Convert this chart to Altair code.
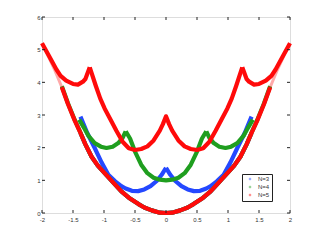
import altair as alt
import pandas as pd

# ---------------- data ----------------
series_names = ["N=3", "N=4", "N=5"]
series_colors = ["#2448ff", "#1f9e1f", "#ff0a0a"]

x_ticks = [-2, -1.5, -1, -0.5, 0, 0.5, 1, 1.5, 2]
y_ticks = [0, 1, 2, 3, 4, 5, 6]

# N=3 (blue)
n3_low_x = [-1.38, -1.3, -1.2, -1.1, -0.99, -0.85, -0.72, -0.6, -0.45, -0.35, -0.23, -0.1, 0,
            0.1, 0.23, 0.35, 0.45, 0.6, 0.72, 0.85, 0.99, 1.1, 1.2, 1.3, 1.38]
n3_low_y = [2.45, 2.1, 1.72, 1.45, 1.22, 0.93, 0.66, 0.47, 0.28, 0.17, 0.08, 0.01, 0,
            0.01, 0.08, 0.17, 0.28, 0.47, 0.66, 0.93, 1.22, 1.45, 1.72, 2.1, 2.45]
n3_upL_x = [-1.38, -1.27, -1.15, -1.04, -0.93, -0.82, -0.72, -0.65, -0.55, -0.45, -0.35, -0.25, -0.15, -0.07, 0]
n3_upL_y = [2.95, 2.45, 1.99, 1.55, 1.17, 0.97, 0.82, 0.75, 0.68, 0.67, 0.72, 0.82, 0.98, 1.17, 1.38]
n3_upR_x = [0, 0.07, 0.15, 0.25, 0.35, 0.45, 0.55, 0.65, 0.72, 0.82, 0.93, 1.04, 1.15, 1.27, 1.38]
n3_upR_y = [1.38, 1.17, 0.98, 0.82, 0.72, 0.67, 0.68, 0.75, 0.82, 0.97, 1.17, 1.55, 1.99, 2.45, 2.95]

# N=4 (green)
n4_low_x = [-1.68, -1.58, -1.47, -1.38, -1.3, -1.2, -1.1, -0.99, -0.85, -0.72, -0.6, -0.45, -0.35, -0.23, -0.1, 0,
            0.1, 0.23, 0.35, 0.45, 0.6, 0.72, 0.85, 0.99, 1.1, 1.2, 1.3, 1.38, 1.47, 1.58, 1.68]
n4_low_y = [3.88, 3.35, 2.84, 2.46, 2.1, 1.72, 1.45, 1.22, 0.93, 0.66, 0.47, 0.28, 0.17, 0.08, 0.01, 0,
            0.01, 0.08, 0.17, 0.28, 0.47, 0.66, 0.93, 1.22, 1.45, 1.72, 2.1, 2.46, 2.84, 3.35, 3.88]
n4_outL_x = [-1.4, -1.32, -1.25, -1.15, -1.05, -0.96, -0.86, -0.77, -0.7, -0.65]
n4_outL_y = [2.86, 2.6, 2.36, 2.14, 2.03, 1.99, 2.03, 2.14, 2.3, 2.5]
n4_in_x = [-0.65, -0.58, -0.5, -0.4, -0.3, -0.2, -0.1, 0, 0.1, 0.2, 0.3, 0.4, 0.5, 0.58, 0.65]
n4_in_y = [2.5, 2.28, 1.88, 1.48, 1.22, 1.08, 1.02, 1.0, 1.02, 1.08, 1.22, 1.48, 1.88, 2.28, 2.5]
n4_outR_x = [0.65, 0.7, 0.77, 0.86, 0.96, 1.05, 1.15, 1.25, 1.32, 1.4]
n4_outR_y = [2.5, 2.3, 2.14, 2.03, 1.99, 2.03, 2.14, 2.36, 2.6, 2.86]

# N=5 (red)
n5_low_x = n4_low_x
n5_low_y = [3.85, 3.33, 2.82, 2.45, 2.1, 1.72, 1.45, 1.22, 0.93, 0.66, 0.47, 0.28, 0.17, 0.08, 0.01, 0,
            0.01, 0.08, 0.17, 0.28, 0.47, 0.66, 0.93, 1.22, 1.45, 1.72, 2.1, 2.45, 2.82, 3.33, 3.85]
n5_faintL_x = [-2.0, -1.9, -1.8, -1.68]
n5_faintL_y = [5.2, 4.8, 4.4, 3.85]
n5_faintR_x = [1.68, 1.8, 1.9, 2.0]
n5_faintR_y = [3.85, 4.4, 4.8, 5.2]
n5_outL_x = [-2.0, -1.88, -1.77, -1.7, -1.61, -1.5, -1.42, -1.34, -1.3, -1.23]
n5_outL_y = [5.2, 4.78, 4.4, 4.2, 4.05, 3.95, 3.93, 4.02, 4.1, 4.46]
n5_in_x = [-1.23, -1.13, -1.06, -0.99, -0.9, -0.8, -0.7, -0.6, -0.5, -0.4, -0.3, -0.2, -0.1, -0.05, 0,
           0.05, 0.1, 0.2, 0.3, 0.4, 0.5, 0.6, 0.7, 0.8, 0.9, 0.99, 1.06, 1.13, 1.23]
n5_in_y = [4.46, 3.88, 3.5, 3.2, 2.88, 2.52, 2.18, 1.98, 1.93, 1.96, 2.04, 2.22, 2.52, 2.72, 2.96,
           2.72, 2.52, 2.22, 2.04, 1.96, 1.93, 1.98, 2.18, 2.52, 2.88, 3.2, 3.5, 3.88, 4.46]
n5_outR_x = [1.23, 1.3, 1.34, 1.42, 1.5, 1.61, 1.7, 1.77, 1.88, 2.0]
n5_outR_y = [4.46, 4.1, 4.02, 3.93, 3.95, 4.05, 4.2, 4.4, 4.78, 5.2]

# ---------------- build tables ----------------
rows = []
def add(series, branch, xs, ys, faint=False):
    for a, b in zip(xs, ys):
        rows.append({"series": series, "branch": branch, "x": a, "y": b, "faint": faint})

add("N=3", "low", n3_low_x, n3_low_y)
add("N=3", "upL", n3_upL_x, n3_upL_y)
add("N=3", "upR", n3_upR_x, n3_upR_y)
add("N=4", "low", n4_low_x, n4_low_y)
add("N=4", "outL", n4_outL_x, n4_outL_y)
add("N=4", "in", n4_in_x, n4_in_y)
add("N=4", "outR", n4_outR_x, n4_outR_y)
add("N=5", "low", n5_low_x, n5_low_y)
add("N=5", "outL", n5_outL_x, n5_outL_y)
add("N=5", "in", n5_in_x, n5_in_y)
add("N=5", "outR", n5_outR_x, n5_outR_y)
add("N=5", "faintL", n5_faintL_x, n5_faintL_y, True)
add("N=5", "faintR", n5_faintR_x, n5_faintR_y, True)
df = pd.DataFrame(rows)

xt_df = pd.DataFrame({"x": x_ticks})
yt_df = pd.DataFrame({"y": y_ticks})

W, H = 248, 196
FONT = "Liberation Sans"

x_enc = alt.X("x:Q", scale=alt.Scale(domain=[-2, 2], nice=False, zero=False),
              axis=alt.Axis(values=x_ticks, labelExpr="'' + datum.value", ticks=False, grid=False,
                            domain=False, title=None, labelFontSize=6, labelFont=FONT,
                            labelPadding=3, labelColor="#333", labelFlush=False))
y_enc = alt.Y("y:Q", scale=alt.Scale(domain=[0, 6], nice=False, zero=False),
              axis=alt.Axis(values=y_ticks, labelExpr="'' + datum.value", ticks=False, grid=False,
                            domain=False, title=None, labelFontSize=6, labelFont=FONT,
                            labelPadding=2, labelColor="#333", labelFlush=False))
color_enc = alt.Color("series:N",
                      scale=alt.Scale(domain=series_names, range=series_colors),
                      legend=alt.Legend(orient="none", legendX=200, legendY=157, title=None,
                                        strokeColor="#222", fillColor="white", padding=2,
                                        labelFontSize=6, labelFont=FONT, labelColor="#333",
                                        symbolType="M-0.5,0H0.5M0,-0.5V0.5", symbolSize=25,
                                        symbolOpacity=0.6, symbolStrokeWidth=1,
                                        symbolOffset=3, labelOffset=5, rowPadding=0,
                                        labelLimit=40))

layers = []
for s in series_names:
    sub = alt.Chart(df).transform_filter(
        (alt.datum.series == s) & (alt.datum.faint == False)
    ).mark_line(strokeWidth=4.2, strokeJoin="round").encode(
        x=x_enc, y=y_enc, color=color_enc, detail="branch:N")
    layers.append(sub)

faint = alt.Chart(df).transform_filter(alt.datum.faint == True).mark_line(
    strokeWidth=3, opacity=0.35).encode(x=x_enc, y=y_enc, color=color_enc, detail="branch:N")
layers.insert(2, faint)

tick_style = dict(color="#222", strokeWidth=1)
tb = alt.Chart(xt_df).mark_rule(**tick_style).encode(x=x_enc, y=alt.value(H), y2=alt.value(H - 3))
tt = alt.Chart(xt_df).mark_rule(**tick_style).encode(x=x_enc, y=alt.value(0), y2=alt.value(3))
tl = alt.Chart(yt_df).mark_rule(**tick_style).encode(y=y_enc, x=alt.value(0), x2=alt.value(3))
tr = alt.Chart(yt_df).mark_rule(**tick_style).encode(y=y_enc, x=alt.value(W), x2=alt.value(W - 3))

chart = alt.layer(*layers, tb, tt, tl, tr).properties(
    width=W, height=H,
    autosize=alt.AutoSizeParams(type="none"),
    padding={"left": 34, "top": 9, "right": 20, "bottom": 20},
).configure_view(stroke="#222", strokeWidth=1).configure(background="white")

chart.save("out.html", embed_options={"renderer": "svg", "actions": False})
